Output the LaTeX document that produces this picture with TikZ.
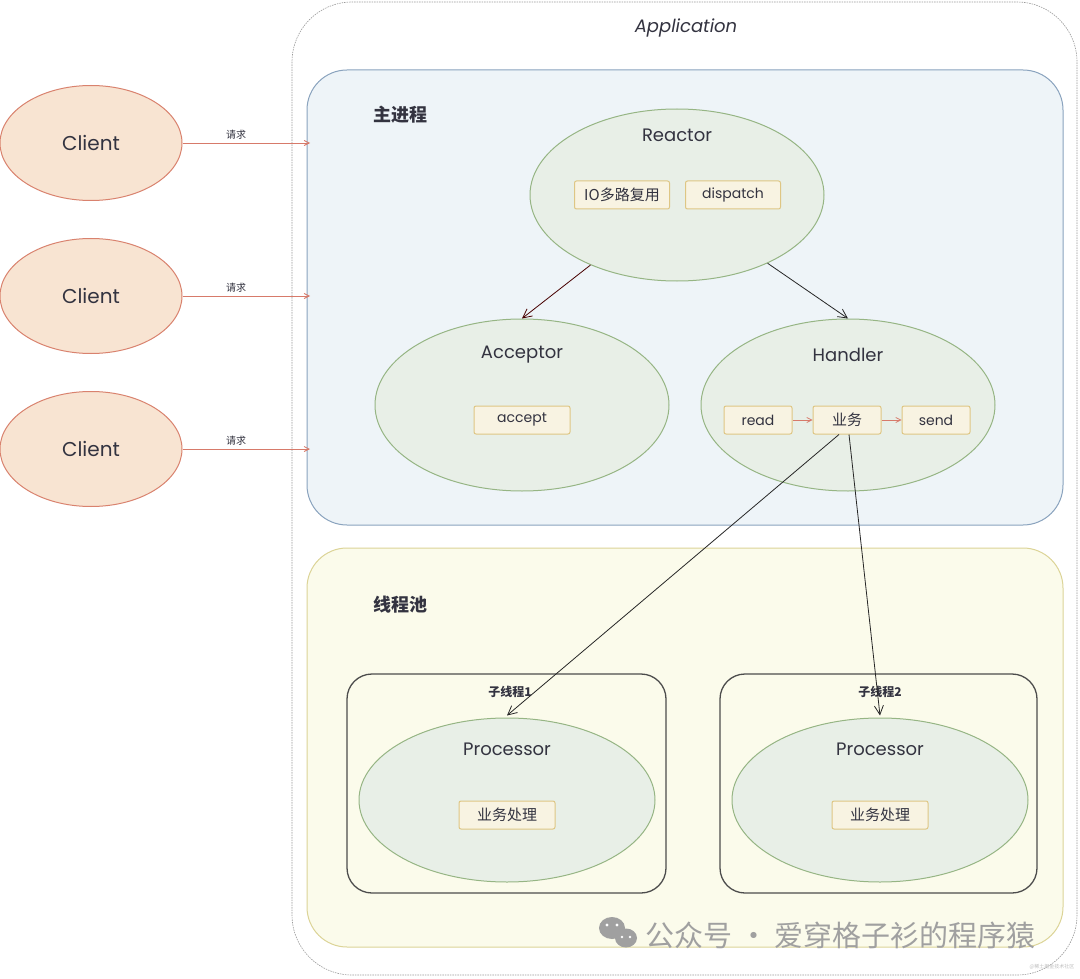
\documentclass[tikz,border=0pt]{standalone}
\usepackage{fontspec}
\setmainfont{Poppins}
\newfontfamily\cjk{Noto Sans CJK SC}
\usetikzlibrary{shapes.geometric,arrows.meta}
\definecolor{clientfill}{HTML}{F8E4D2}
\definecolor{clientline}{HTML}{D9826E}
\definecolor{ellfill}{HTML}{E8EFE7}
\definecolor{ellline}{HTML}{96B584}
\definecolor{boxfill}{HTML}{F8F3E2}
\definecolor{boxline}{HTML}{DEC684}
\definecolor{mainfill}{HTML}{EEF4F8}
\definecolor{mainline}{HTML}{8AA3BE}
\definecolor{poolfill}{HTML}{FBFBEB}
\definecolor{poolline}{HTML}{DCD497}
\definecolor{txt}{HTML}{333340}
\definecolor{reqline}{HTML}{D77A6A}
\definecolor{wm}{HTML}{A0A0A0}
\tikzset{
  client/.style={ellipse,draw=clientline,fill=clientfill,line width=1pt,minimum width=182pt,minimum height=115pt,inner sep=0pt},
  bigell/.style={ellipse,draw=ellline,fill=ellfill,line width=1pt,minimum width=294pt,minimum height=172pt,inner sep=0pt},
  procell/.style={ellipse,draw=ellline,fill=ellfill,line width=1pt,minimum width=296pt,minimum height=164pt,inner sep=0pt},
  smallbox/.style={draw=boxline,fill=boxfill,line width=1pt,rounded corners=2pt,minimum height=28pt,inner sep=0pt,text=txt,font=\fontsize{14}{16}\selectfont},
  elltitle/.style={text=txt,font=\fontsize{18}{20}\selectfont},
  reqarrow/.style={draw=reqline,line width=0.8pt,-{Straight Barb[length=5pt,width=5pt]}},
  flow/.style={draw=black!85,line width=0.8pt,-{Straight Barb[length=9pt,width=9pt]}},
  redflow/.style={draw=reqline,line width=0.7pt,-{Straight Barb[length=5pt,width=5pt]}},
  thread/.style={draw=black!70,line width=1.3pt,rounded corners=25pt},
}
\begin{document}
\begin{tikzpicture}[x=1pt,y=-1pt]
\useasboundingbox (0,0) rectangle (1080,979);
\fill[white] (0,0) rectangle (1080,979);
% application
\draw[gray!80,dashed,line width=0.6pt,dash pattern=on 1.5pt off 1pt,rounded corners=60pt] (292,2) rectangle (1077,975);
\node[font=\itshape\fontsize{18}{20}\selectfont,text=txt] (app) at (686,28) {Application};
% main process
\draw[draw=mainline,fill=mainfill,line width=1pt,rounded corners=40pt] (307,70) rectangle (1063,525);
\node[font=\cjk\bfseries\fontsize{18}{20}\selectfont,text=txt] (mainlbl) at (400,115) {主进程};
% thread pool
\draw[draw=poolline,fill=poolfill,line width=1pt,rounded corners=40pt] (307,548) rectangle (1063,947);
\node[font=\cjk\bfseries\fontsize{18}{20}\selectfont,text=txt] (poollbl) at (400,605) {线程池};
% threads
\draw[thread] (347,674) rectangle (666,893);
\draw[thread] (720,674) rectangle (1037,893);
\node[font=\cjk\bfseries\fontsize{12}{14}\selectfont,text=txt] (t1lbl) at (510,692) {子线程1};
\node[font=\cjk\bfseries\fontsize{12}{14}\selectfont,text=txt] (t2lbl) at (880,692) {子线程2};
% clients
\foreach \i/\y in {1/143,2/296,3/449}{
  \node[client] (c\i) at (91,\y) {};
  \node[text=txt,font=\fontsize{20}{22}\selectfont] (cl\i) at (91,\y) {Client};
  \coordinate (e\i) at (310,\y);
  \draw[reqarrow] (c\i.east) -- (e\i);
  \node[font=\cjk\fontsize{10}{12}\selectfont,text=txt] (rq\i) at (236,\y-8) {请求};
}
% Reactor
\node[bigell] (reactor) at (677,195) {};
\node[elltitle] (rt) at (677,135) {Reactor};
\node[smallbox,minimum width=95pt,font=\cjk\fontsize{15}{17}\selectfont] (io) at (622,195) {IO多路复用};
\node[smallbox,minimum width=95pt] (disp) at (733,195) {dispatch};
% Acceptor
\node[bigell] (acc) at (522,405) {};
\node[elltitle] (at) at (522,355) {Acceptor};
\node[smallbox,minimum width=96pt] (accept) at (522,420) {accept};
% Handler
\node[bigell] (hand) at (848,405) {};
\node[elltitle] (ht) at (848,355) {Handler};
\node[smallbox,minimum width=68pt] (read) at (758,420) {read};
\node[smallbox,minimum width=68pt,font=\cjk\fontsize{15}{17}\selectfont] (biz) at (847,420) {业务};
\node[smallbox,minimum width=68pt] (send) at (936,420) {send};
\draw[redflow] (read) -- (biz);
\draw[redflow] (biz) -- (send);
% Processors
\node[procell] (p1) at (507,800) {};
\node[elltitle] (p1t) at (507,749) {Processor};
\node[smallbox,minimum width=96pt,font=\cjk\fontsize{15}{17}\selectfont] (w1) at (507,815) {业务处理};
\node[procell] (p2) at (880,800) {};
\node[elltitle] (p2t) at (880,749) {Processor};
\node[smallbox,minimum width=96pt,font=\cjk\fontsize{15}{17}\selectfont] (w2) at (880,815) {业务处理};
% arrows
\draw[flow,draw=black!60!red!70!black] (reactor.-141) -- (acc.north);
\draw[flow] (reactor.-37) -- (hand.north);
\draw[flow] ([xshift=-8pt]biz.south) -- ([yshift=2pt]p1.north);
\draw[flow] ([xshift=2pt]biz.south) -- ([yshift=2pt]p2.north);
% watermark
\fill[wm] (612,928) ellipse (13pt and 11pt);
\fill[wm] (626,938) ellipse (11pt and 9.5pt);
\fill[white] (607,925) circle (1.6pt) (617,925) circle (1.6pt) (622,937) circle (1.3pt) (630,937) circle (1.3pt);
\node[font=\cjk\fontsize{29}{31}\selectfont,text=wm,anchor=west] (wmtext) at (642,935) {公众号 · 爱穿格子衫的程序猿};
\node[font=\cjk\fontsize{5}{6}\selectfont,text=black!25,anchor=east] (wm2) at (1078,967) {@稀土掘金技术社区};
\end{tikzpicture}
\end{document}
